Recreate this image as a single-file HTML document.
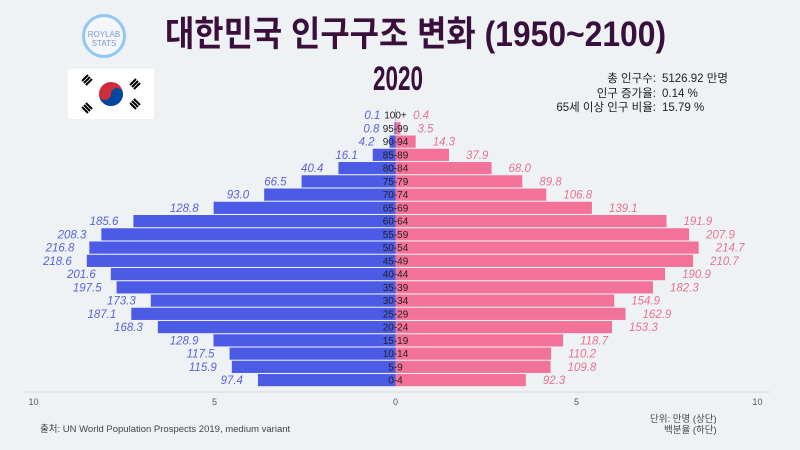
<!DOCTYPE html>
<html><head><meta charset="utf-8">
<style>
body{margin:0;width:800px;height:450px;overflow:hidden;background:#eef2f5;font-family:"Liberation Sans","Noto Sans CJK KR",sans-serif;}
#wrap{position:relative;width:800px;height:450px;}
.t{position:absolute;white-space:nowrap;}
</style></head>
<body>
<div id="wrap">
<div class="t" style="left:82px;top:14px;width:44px;height:44px;border-radius:50%;border:3px solid #8fc8f0;background:#f4f6fa;font-size:8px;color:#7a9ad6;text-align:center;line-height:9px;padding-top:13px;box-sizing:border-box;">ROYLAB<br>STATS</div>
<div class="t" style="left:165px;top:6px;font-size:35px;font-weight:bold;color:#3a0f3c;transform:scaleX(0.91);transform-origin:left;">대한민국 인구구조 변화 (1950~2100)</div>
<div class="t" style="left:68px;top:69px;width:86px;height:50px;background:#fff;">
<svg width="86" height="50"><circle cx="43" cy="25" r="12" fill="#cd2e3a"/><path d="M31 25a12 12 0 0 0 24 0a6 6 0 0 0-12 0a6 6 0 0 1-12 0z" fill="#0047a0"/>
<g stroke="#000" stroke-width="2"><path d="M14 12l6-6M16 14l6-6M18 16l6-6M62 34l6 6M64 32l6 6M66 30l6 6M62 16l6-6M64 18l6-6M66 20l6-6M14 38l6 6M16 36l6 6M18 34l6 6"/></g></svg></div>
<div class="t" style="left:373px;top:60px;font-size:34px;font-weight:bold;color:#3a0f3c;transform:scaleX(0.66);transform-origin:left;">2020</div>
<div class="t" style="left:520px;top:72px;width:136px;text-align:right;font-size:11.5px;line-height:14.5px;color:#222;">총 인구수:<br>인구 증가율:<br>65세 이상 인구 비율:</div>
<div class="t" style="left:662px;top:72px;font-size:11.5px;line-height:14.5px;color:#222;">5126.92 만명<br>0.14 %<br>15.79 %</div>
<svg id="svg" class="t" style="left:0;top:0" width="800" height="450"></svg>
<div class="t" style="left:40px;top:421px;font-size:9.5px;color:#444;">출처: UN World Population Prospects 2019, medium variant</div>
<div class="t" style="left:650px;top:414px;font-size:9.5px;color:#444;text-align:right;line-height:11px;">단위: 만명 (상단)<br>백분율 (하단)</div>
</div>
<script>
const ages=["100+","95-99","90-94","85-89","80-84","75-79","70-74","65-69","60-64","55-59","50-54","45-49","40-44","35-39","30-34","25-29","20-24","15-19","10-14","5-9","0-4"];
const male=[0.1,0.8,4.2,16.1,40.4,66.5,93.0,128.8,185.6,208.3,216.8,218.6,201.6,197.5,173.3,187.1,168.3,128.9,117.5,115.9,97.4];
const female=[0.4,3.5,14.3,37.9,68.0,89.8,106.8,139.1,191.9,207.9,214.7,210.7,190.9,182.3,154.9,162.9,153.3,118.7,110.2,109.8,92.3];
const total=5126.92;
const ticks=[10,5,0,5,10];
const tickVals=[-10,-5,0,5,10];
const NS="http://www.w3.org/2000/svg";
const svg=document.getElementById('svg');
const x0=395.5, ppu=36.2;
const xs=p=>x0+p*ppu;
const w=v=>v/total*200*ppu;
const yc=i=>115+i*13.25;
function mk(tag,attrs){const e=document.createElementNS(NS,tag);for(const k in attrs)e.setAttribute(k,attrs[k]);svg.appendChild(e);return e;}
const ax=mk('line',{x1:25,x2:770,y1:392,y2:392,stroke:'#d4d8dc','stroke-width':1});


tickVals.forEach((p,i)=>{
  const t=mk('text',{x:xs(p),y:405,'font-size':9,fill:'#555','text-anchor':'middle','font-family':'Liberation Sans'});
  t.textContent=ticks[i];
  
  
});
ages.forEach((a,i)=>{
  const y=yc(i);
  const mw=w(male[i]), fw=w(female[i]);
  const bm=mk('rect',{x:x0-mw,y:y-6,width:mw,height:12.2,fill:'#4b5be6'});
  
  
  const bf=mk('rect',{x:x0,y:y-6,width:fw,height:12.2,fill:'#f27299'});
  
  
  const lm=mk('text',{x:x0-mw-15,y:y+4,'font-size':11.5,'font-style':'italic',fill:'#5a62d8','text-anchor':'end','font-family':'Liberation Sans'});
  lm.textContent=male[i].toFixed(1);
  
  
  const lf=mk('text',{x:x0+fw+17,y:y+4,'font-size':11.5,'font-style':'italic',fill:'#e8728f','text-anchor':'start','font-family':'Liberation Sans'});
  lf.textContent=female[i].toFixed(1);
  
  
  const la=mk('text',{x:x0,y:y+3.5,'font-size':10,fill:'#222','text-anchor':'middle','font-family':'Liberation Sans'});
  la.textContent=a;
  
  
});
</script>
</body></html>
